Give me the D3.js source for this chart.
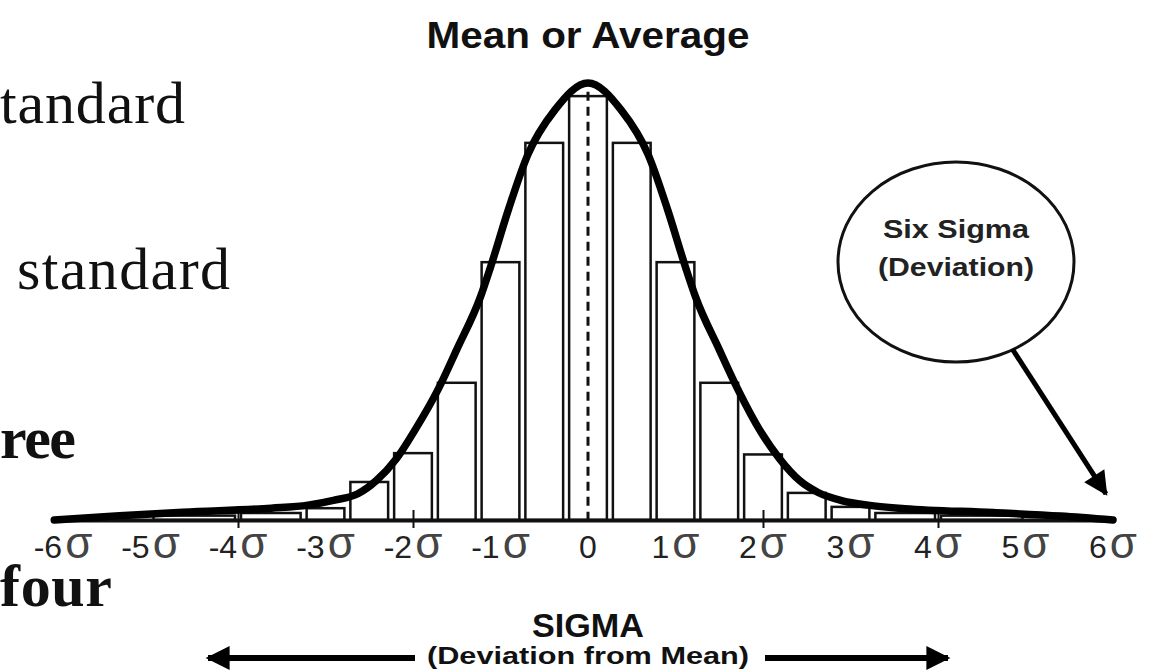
<!DOCTYPE html>
<html>
<head>
<meta charset="utf-8">
<script src="https://cdn.jsdelivr.net/npm/d3@7"></script>
<style>
  html, body { margin: 0; padding: 0; background: #fff; }
  svg { display: block; }
</style>
</head>
<body>
<svg id="chart" width="1150" height="670"></svg>
<script>
// Axis stops in units of sigma, and their labels
const sigmaTicks = [-6, -5, -4, -3, -2, -1, 0, 1, 2, 3, 4, 5, 6];
const tickLabels = ["-6σ", "-5σ", "-4σ", "-3σ", "-2σ", "-1σ", "0", "1σ", "2σ", "3σ", "4σ", "5σ", "6σ"];
const markedTicks = [-4, -2, 2, 4];

// Histogram bins (sigma) and bar heights (percent of the peak)
const binStart  = [-5.0, -4.0, -3.25, -2.75, -2.25, -1.75, -1.25, -0.75, -0.25, 0.25, 0.75, 1.25, 1.75, 2.25, 2.75, 3.25, 4.0];
const binEnd    = [-4.0, -3.25, -2.75, -2.25, -1.75, -1.25, -0.75, -0.25, 0.25, 0.75, 1.25, 1.75, 2.25, 2.75, 3.25, 4.0, 5.0];
const binHeight = [1.0, 1.6, 2.7, 8.7, 15.3, 31.4, 59.0, 86.3, 97.0, 86.3, 59.0, 31.4, 15.0, 6.2, 3.0, 1.6, 1.0];

// Bell curve drawn over the histogram (sigma, percent of peak)
const curveSigma  = [-6.1, -5.4, -4.63, -3.62, -3.2, -2.91, -2.63, -2.42, -2.19, -1.98, -1.71, -1.5, -1.23, -1.12, -0.91, -0.69, -0.38, 0,
                     0.38, 0.69, 0.91, 1.12, 1.23, 1.5, 1.71, 1.98, 2.19, 2.42, 2.63, 2.91, 3.2, 3.62, 4.63, 5.4, 6.0];
const curveHeight = [0, 0.9, 1.8, 2.7, 3.4, 4.5, 6.0, 9.0, 14.0, 20.5, 30.0, 39.0, 51.0, 57.5, 71.0, 83.5, 93.8, 100,
                     93.8, 83.5, 71.0, 57.5, 51.0, 39.0, 30.0, 20.0, 14.0, 9.0, 6.3, 4.4, 3.4, 2.6, 1.7, 0.9, 0];

const svg = d3.select("#chart");

const x = d3.scaleLinear().domain([-6, 6]).range([63, 1113]);
const y = d3.scaleLinear().domain([0, 100]).range([520, 83]);

const sans = "'Liberation Sans', Arial, Helvetica, sans-serif";
const serif = "'Liberation Serif', 'Times New Roman', serif";

// Fragments of the neighbouring body text on the left
const side = svg.append("g").attr("font-family", serif).attr("fill", "#111");
side.append("text").attr("x", 0).attr("y", 123).attr("font-size", 60)
  .attr("textLength", 185).attr("lengthAdjust", "spacing").text("tandard");
side.append("text").attr("x", 17).attr("y", 289).attr("font-size", 60)
  .attr("textLength", 213).attr("lengthAdjust", "spacing").text("standard");
side.append("text").attr("x", 0).attr("y", 458).attr("font-size", 60).attr("font-weight", "bold")
  .attr("textLength", 76).attr("lengthAdjust", "spacing").text("ree");
side.append("text").attr("x", 0).attr("y", 606).attr("font-size", 60).attr("font-weight", "bold")
  .attr("textLength", 112).attr("lengthAdjust", "spacing").text("four");

// Histogram bars
const bins = binStart.map((s, i) => ({ s, e: binEnd[i], h: binHeight[i] }));
svg.append("g").selectAll("rect").data(bins).join("rect")
  .attr("x", d => x(d.s) + 3)
  .attr("width", d => x(d.e) - x(d.s) - 6)
  .attr("y", d => y(d.h))
  .attr("height", d => y(0) - y(d.h))
  .attr("fill", "#fff")
  .attr("stroke", "#111")
  .attr("stroke-width", 2.5);

// Mean line
svg.append("line")
  .attr("x1", x(0)).attr("x2", x(0))
  .attr("y1", y(98)).attr("y2", y(0))
  .attr("stroke", "#111").attr("stroke-width", 3)
  .attr("stroke-dasharray", "9,6");

// Baseline axis with small marks
const axis = d3.axisBottom(x).tickValues(markedTicks).tickSize(8).tickSizeOuter(0).tickFormat("");
const ax = svg.append("g").attr("transform", `translate(0,${y(0)})`).call(axis);
ax.select(".domain").attr("stroke", "#111").attr("stroke-width", 4);
ax.selectAll(".tick line").attr("stroke", "#111").attr("stroke-width", 2).attr("y1", -10);

// Bell curve
const pts = curveSigma.map((s, i) => [s, curveHeight[i]]);
svg.append("path")
  .datum(pts)
  .attr("d", d3.line().x(d => x(d[0])).y(d => y(d[1])).curve(d3.curveMonotoneX))
  .attr("fill", "none")
  .attr("stroke", "#000")
  .attr("stroke-width", 7.5)
  .attr("stroke-linecap", "round");

// Sigma labels
const lab = svg.append("g").attr("font-family", sans).attr("fill", "#222").attr("text-anchor", "middle");
sigmaTicks.forEach((s, i) => {
  const str = tickLabels[i];
  const t = lab.append("text").attr("x", x(s)).attr("y", 558);
  if (str.endsWith("σ")) {
    t.append("tspan").attr("font-size", 32).text(str.slice(0, -1));
    t.append("tspan").attr("font-size", 44).attr("dx", 3).attr("fill", "#444").text("σ");
  } else {
    t.append("tspan").attr("font-size", 32).text(str);
  }
});

// Titles
svg.append("text").attr("x", x(0)).attr("y", 48)
  .attr("font-family", sans).attr("font-weight", "bold").attr("font-size", 37)
  .attr("text-anchor", "middle").attr("fill", "#111")
  .attr("textLength", 323).attr("lengthAdjust", "spacingAndGlyphs")
  .text("Mean or Average");

svg.append("text").attr("x", x(0)).attr("y", 637)
  .attr("font-family", sans).attr("font-weight", "bold").attr("font-size", 33)
  .attr("text-anchor", "middle").attr("fill", "#111")
  .attr("textLength", 112).attr("lengthAdjust", "spacingAndGlyphs")
  .text("SIGMA");

svg.append("text").attr("x", x(0)).attr("y", 664)
  .attr("font-family", sans).attr("font-weight", "bold").attr("font-size", 23)
  .attr("text-anchor", "middle").attr("fill", "#111")
  .attr("textLength", 322).attr("lengthAdjust", "spacingAndGlyphs")
  .text("(Deviation from Mean)");

// Arrow heads
const defs = svg.append("defs");
defs.append("marker").attr("id", "head")
  .attr("viewBox", "0 0 10 10").attr("refX", 9).attr("refY", 5)
  .attr("markerUnits", "userSpaceOnUse")
  .attr("markerWidth", 36).attr("markerHeight", 24)
  .attr("orient", "auto")
  .append("path").attr("d", "M0,0 L10,5 L0,10 Z").attr("fill", "#000");

// Direction arrows under the axis title
svg.append("line").attr("x1", 415).attr("y1", 658).attr("x2", 208).attr("y2", 658)
  .attr("stroke", "#000").attr("stroke-width", 6).attr("marker-end", "url(#head)");
svg.append("line").attr("x1", 765).attr("y1", 658).attr("x2", 948).attr("y2", 658)
  .attr("stroke", "#000").attr("stroke-width", 6).attr("marker-end", "url(#head)");

// Six Sigma callout
const cx = 956, cy = 262, rx = 118, ry = 100;
svg.append("ellipse").attr("cx", cx).attr("cy", cy).attr("rx", rx).attr("ry", ry)
  .attr("fill", "#fff").attr("stroke", "#111").attr("stroke-width", 3);
svg.append("text").attr("x", cx).attr("y", 238)
  .attr("font-family", sans).attr("font-weight", "bold").attr("font-size", 26)
  .attr("text-anchor", "middle").attr("fill", "#222")
  .attr("textLength", 146).attr("lengthAdjust", "spacingAndGlyphs")
  .text("Six Sigma");
svg.append("text").attr("x", cx).attr("y", 276)
  .attr("font-family", sans).attr("font-weight", "bold").attr("font-size", 26)
  .attr("text-anchor", "middle").attr("fill", "#222")
  .attr("textLength", 156).attr("lengthAdjust", "spacingAndGlyphs")
  .text("(Deviation)");

const tipX = x(5.92), tipY = y(6);
const ang = Math.atan2(tipY - cy, tipX - cx);
// start on the ellipse edge along the line to the tip
const tt = 1 / Math.sqrt(Math.pow(Math.cos(ang) / rx, 2) + Math.pow(Math.sin(ang) / ry, 2));
svg.append("line")
  .attr("x1", cx + tt * Math.cos(ang)).attr("y1", cy + tt * Math.sin(ang))
  .attr("x2", tipX).attr("y2", tipY)
  .attr("stroke", "#000").attr("stroke-width", 5).attr("marker-end", "url(#head)");
</script>
</body>
</html>
